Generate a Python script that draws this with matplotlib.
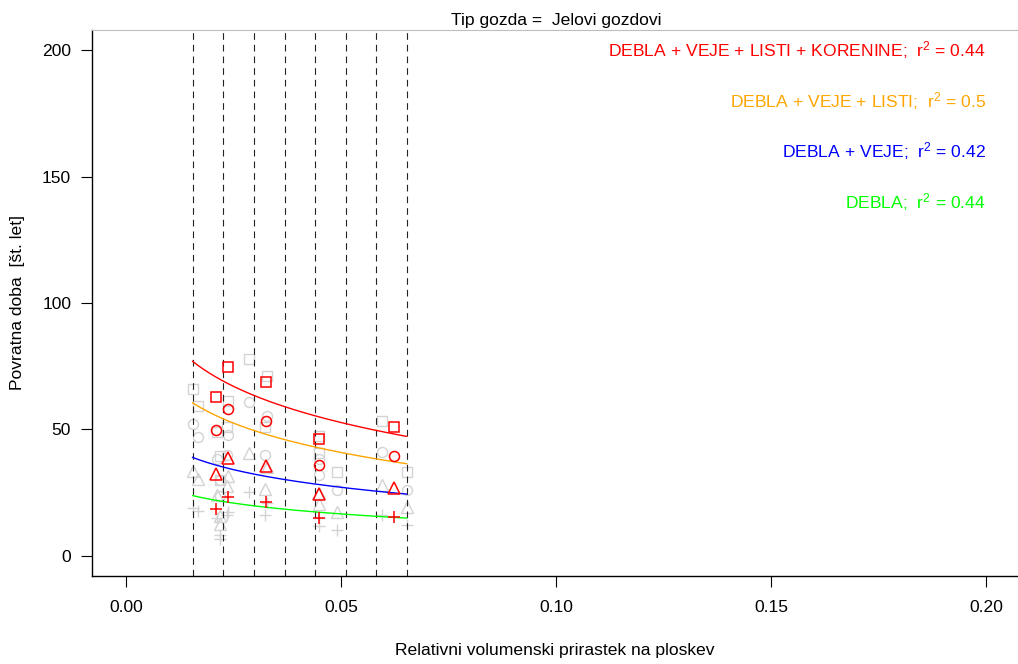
import numpy as np
import matplotlib
matplotlib.use("Agg")
import matplotlib.pyplot as plt

plt.rcParams['font.family'] = ['Liberation Sans', 'DejaVu Sans']
plt.rcParams['mathtext.fontset'] = 'custom'
plt.rcParams['mathtext.rm'] = 'Liberation Sans'
plt.rcParams['mathtext.it'] = 'Liberation Sans'

# Individual plots: relative volume increment and return period per biomass component
plot_x = [0.01542, 0.01667, 0.02100, 0.02186, 0.02186, 0.02333, 0.02365,
          0.02853, 0.03272, 0.03233, 0.04472, 0.04488, 0.04900, 0.05947, 0.06528]
total_y = [66.0, 59.1, 48.8, 39.3, 30.0, 51.0, 61.1,
           77.9, 71.3, 51.0, 40.6, 47.3, 33.1, 53.2, 33.1]
leaves_y = [52.2, 46.9, 38.3, 30.1, 23.5, 40.0, 47.9,
            61.0, 55.2, 40.0, 32.1, 38.3, 25.9, 40.9, 26.0]
branches_y = [33.7, 30.5, 24.2, 15.8, 12.6, 27.7, 31.7,
              40.7, 35.0, 26.4, 20.5, 25.0, 17.5, 27.9, 19.3]
stems_y = [18.9, 17.9, 14.9, 8.3, 6.5, 16.0, 17.5,
           25.1, 21.0, 16.2, 11.6, 15.0, 10.1, 16.1, 12.1]

# Class summaries (one per occupied class)
class_x = [0.02093, 0.02372, 0.03256, 0.04488, 0.06233]
class_total = [63.0, 74.5, 68.9, 46.3, 51.1]
class_leaves = [49.9, 58.2, 53.5, 36.0, 39.6]
class_branches = [32.5, 38.8, 35.6, 24.6, 26.9]
class_stems = [18.6, 23.4, 21.4, 15.0, 15.4]

# Class breaks
breaks = [0.0154, 0.0225, 0.0296, 0.0368, 0.0439, 0.0510, 0.0581, 0.0652]

# Logarithmic fits y = a + b*ln(x)
fit_labels = ["DEBLA + VEJE + LISTI + KORENINE", "DEBLA + VEJE + LISTI",
              "DEBLA + VEJE", "DEBLA"]
fit_r2 = ["0.44", "0.5", "0.42", "0.44"]
fit_a = [-8.96, -9.18, -3.03, -1.94]
fit_b = [-20.58, -16.70, -10.05, -6.17]
fit_colors = ["#FF0000", "#FFA500", "#0000FF", "#00FF00"]
label_y = [200, 180, 160, 140]

W, H = 1018, 664
fig = plt.figure(figsize=(W / 100, H / 100), dpi=100)
left, right, top, bottom = 92, 1020.4, 30, 576
ax = fig.add_axes([left / W, 1 - bottom / H, (right - left) / W, (bottom - top) / H])
ax.set_xlim(-0.008, 0.208)
ax.set_ylim(-8, 208)

gray = "#D3D3D3"
marker_specs = [('s', 7.0), ('o', 7.2), ('^', 8.5), ('+', 9.0)]
for ys, (m, ms) in zip([total_y, leaves_y, branches_y, stems_y], marker_specs):
    ax.plot(plot_x, ys, linestyle='none', marker=m, markersize=ms,
            markerfacecolor='none', markeredgecolor=gray, markeredgewidth=1.0, zorder=2)

for b in breaks:
    ax.axvline(b, color='#222222', linestyle=(0, (6, 4.5)), linewidth=0.8, zorder=3)

xs = np.linspace(breaks[0], breaks[-1], 200)
for a, bb, c in zip(fit_a, fit_b, fit_colors):
    ax.plot(xs, a + bb * np.log(xs), color=c, linewidth=1.0, zorder=4)

for ys, (m, ms) in zip([class_total, class_leaves, class_branches, class_stems], marker_specs):
    ax.plot(class_x, ys, linestyle='none', marker=m, markersize=ms,
            markerfacecolor='none', markeredgecolor='#FF0000', markeredgewidth=1.1, zorder=5)

for lab, r2, c, yy in zip(fit_labels, fit_r2, fit_colors, label_y):
    ax.text(0.2, yy, lab + ";  $\\mathregular{r^2}$ = " + r2, color=c, fontsize=12.6,
            ha='right', va='center', zorder=6)

ax.set_xticks([0.00, 0.05, 0.10, 0.15, 0.20])
ax.set_xticklabels(["0.00", "0.05", "0.10", "0.15", "0.20"])
ax.set_yticks([0, 50, 100, 150, 200])
ax.tick_params(axis='both', direction='out', length=8, width=0.8, labelsize=12.6)
ax.tick_params(axis='x', pad=9)
ax.tick_params(axis='y', pad=7)

ax.spines['right'].set_visible(False)
ax.spines['top'].set_color('#BEBEBE')
ax.spines['left'].set_linewidth(1.0)
ax.spines['bottom'].set_linewidth(1.0)

fig.text(556 / W, 1 - 20 / H, "Tip gozda =  Jelovi gozdovi", ha='center', va='center', fontsize=12.6)
fig.text(555 / W, 1 - 650 / H, "Relativni volumenski prirastek na ploskev", ha='center', va='center', fontsize=12.6)
fig.text(18 / W, 1 - 303 / H, "Povratna doba  [št. let]", ha='center', va='center', rotation=90, fontsize=12.6)

fig.savefig("out.png", dpi=100)
